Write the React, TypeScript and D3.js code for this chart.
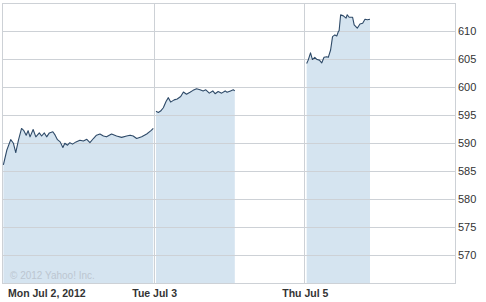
import React from "react";
import * as d3 from "d3";

const dayLabels = ["Mon Jul 2, 2012", "Tue Jul 3", "Thu Jul 5"];
const sessionMinutes = 390;
const yTicks = [570, 575, 580, 585, 590, 595, 600, 605, 610];

// minutes after open
const monMinutes = [1, 10, 20, 27, 33, 40, 48, 54, 60, 65, 70, 78, 85, 94, 100, 107, 113, 120, 129, 135, 141, 148, 155, 160, 167, 173, 180, 189, 199, 208, 217, 225, 234, 242, 251, 260, 268, 281, 294, 307, 320, 329, 337, 346, 359, 372, 383, 389];
const monPrices = [586.1, 588.75, 590.6, 589.95, 588.3, 590.5, 592.6, 592.2, 591.4, 592.2, 591.1, 592.4, 591.1, 591.8, 591.25, 591.8, 591.1, 591.8, 592.0, 591.4, 590.6, 590.2, 589.2, 589.95, 589.6, 590.05, 589.8, 590.2, 590.5, 590.35, 590.65, 590.05, 590.8, 591.4, 591.6, 591.25, 591.1, 591.6, 591.25, 591.0, 591.25, 591.4, 591.25, 590.8, 591.1, 591.6, 592.2, 592.6];

const tueMinutes = [6, 12, 18, 25, 32, 38, 44, 53, 61, 70, 77, 85, 94, 102, 111, 120, 128, 135, 144, 153, 159, 167, 176, 185, 190, 199, 206, 210];
const tuePrices = [595.65, 595.45, 595.7, 596.3, 597.4, 598.1, 597.3, 597.7, 597.85, 598.3, 599.1, 598.7, 599.05, 599.4, 599.7, 599.5, 599.3, 599.5, 598.9, 599.3, 598.8, 599.2, 598.9, 599.3, 599.05, 599.3, 599.5, 599.3];

const thuMinutes = [6, 10, 16, 21, 27, 33, 39, 45, 51, 58, 62, 68, 73, 79, 84, 88, 90, 94, 101, 108, 111, 116, 125, 129, 137, 144, 151, 157, 163, 170];
const thuPrices = [604.2, 604.8, 606.1, 604.9, 605.3, 604.9, 604.8, 604.3, 605.3, 605.4, 605.3, 606.6, 609.0, 609.3, 609.1, 609.9, 610.05, 612.9, 612.7, 612.3, 612.9, 612.45, 612.45, 611.1, 610.5, 611.25, 611.4, 612.1, 612.0, 612.1];

const days = [
  { minutes: monMinutes, prices: monPrices },
  { minutes: tueMinutes, prices: tuePrices },
  { minutes: thuMinutes, prices: thuPrices },
];

export default function App() {
  const W = 486, H = 302;
  const left = 3, right = 455, top = 3, bottom = 283;
  const x = d3.scaleLinear().domain([0, sessionMinutes * 3]).range([left, right]);
  const y = d3.scaleLinear().domain([565, 615]).range([bottom, top]);

  const gridColor = "#cdd1d6";
  const fill = "#d5e4f0";
  const lineColor = "#2e4a68";

  const series = days.map((d, di) =>
    d.minutes.map((m, i) => ({ t: di * sessionMinutes + m, v: d.prices[i] }))
  );
  const area = d3
    .area<{ t: number; v: number }>()
    .x((p) => x(p.t))
    .y0(y(565))
    .y1((p) => y(p.v));
  const line = d3
    .line<{ t: number; v: number }>()
    .x((p) => x(p.t))
    .y((p) => y(p.v));

  const font = "'Liberation Sans', Arial, sans-serif";

  return (
    <svg
      width={W}
      height={H}
      style={{ position: "absolute", left: 0, top: 0, background: "#fff" }}
    >
      <rect x={0} y={0} width={W} height={H} fill="#fff" />
      {series.map((s, i) => (
        <path key={"a" + i} d={area(s) || ""} fill={fill} />
      ))}
      {yTicks.map((t) => (
        <line
          key={t}
          x1={left}
          x2={right}
          y1={Math.round(y(t)) + 0.5}
          y2={Math.round(y(t)) + 0.5}
          stroke={gridColor}
          strokeWidth={1}
        />
      ))}
      {[1, 2].map((k) => (
        <line
          key={"v" + k}
          x1={Math.round(x(k * sessionMinutes)) + 0.5}
          x2={Math.round(x(k * sessionMinutes)) + 0.5}
          y1={top}
          y2={bottom}
          stroke={gridColor}
        />
      ))}
      <rect
        x={left - 0.5}
        y={top + 0.5}
        width={right - left + 1}
        height={bottom - top}
        fill="none"
        stroke={gridColor}
      />
      {series.map((s, i) => (
        <path
          key={"l" + i}
          d={line(s) || ""}
          fill="none"
          stroke={lineColor}
          strokeWidth={1.1}
          strokeLinejoin="round"
        />
      ))}
      <text
        x={10}
        y={279}
        fontFamily={font}
        fontSize={10}
        fill="#bcc6d0"
      >
        © 2012 Yahoo! Inc.
      </text>
      {yTicks.map((t) => (
        <text
          key={"t" + t}
          x={458}
          y={y(t) + 4}
          fontFamily={font}
          fontSize={11}
          fill="#333"
        >
          {t}
        </text>
      ))}
      {dayLabels.map((lab, i) => (
        <text
          key={lab}
          x={i === 0 ? 8 : x(i * sessionMinutes) + 1}
          y={297}
          textAnchor={i === 0 ? "start" : "middle"}
          fontFamily={font}
          fontSize={10.5}
          fontWeight="bold"
          fill="#333"
        >
          {lab}
        </text>
      ))}
    </svg>
  );
}
